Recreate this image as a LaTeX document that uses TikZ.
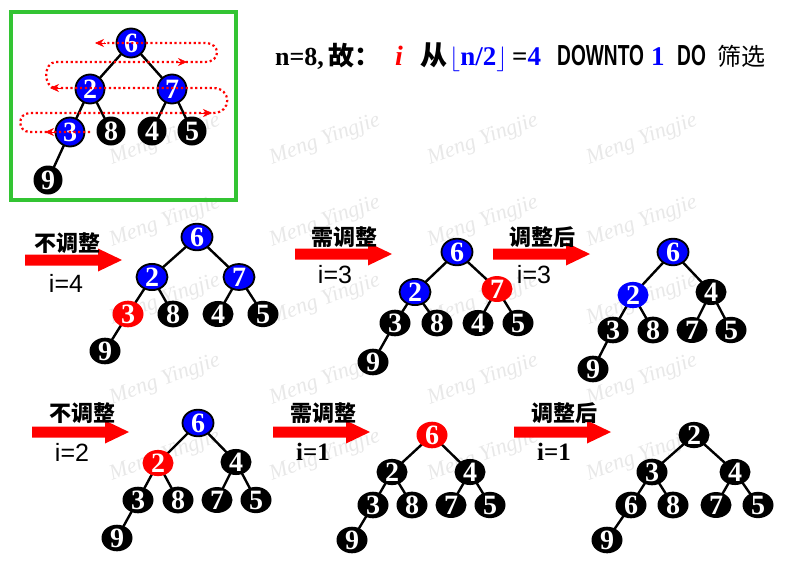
\documentclass[tikz,border=0pt]{standalone}
\usepackage{fontspec}
\usepackage{graphicx}
\setmainfont{Liberation Serif}
\newfontfamily\cjk{Noto Sans CJK SC}
\newfontfamily\lsans{Liberation Sans}
\usetikzlibrary{shapes.geometric,arrows.meta}
\pgfdeclarelayer{wm}
\pgfdeclarelayer{edges}
\pgfdeclarelayer{top}
\pgfsetlayers{wm,edges,main,top}
\definecolor{boxgreen}{RGB}{51,196,51}
\newcommand\dg{\fontsize{28}{28}\selectfont\bfseries}
\newcommand\bigarrow[2]{\fill[red] (#1,#2) ++(0,-5.5) -- ++(73,0) -- ++(0,-6) -- ++(24,11.5) -- ++(-24,11.5) -- ++(0,-6) -- ++(-73,0) -- cycle;}
\newcommand\treeedges[1]{\begin{pgfonlayer}{edges}\draw[edgeline] (#1r.center)--(#1l.center) (#1r.center)--(#1q.center) (#1l.center)--(#1ll.center) (#1l.center)--(#1lr.center) (#1q.center)--(#1ql.center) (#1q.center)--(#1qr.center) (#1ll.center)--(#1lll.center);\end{pgfonlayer}}
\begin{document}
\begin{tikzpicture}[x=1pt,y=-1pt,
  hn/.style={ellipse, minimum width=31pt, minimum height=25pt, inner sep=0pt, text=white, font=\dg},
  kn/.style={hn, fill=black},
  bn/.style={hn, fill=blue, draw=black, line width=1.8pt},
  bnf/.style={hn, fill=blue},
  rn/.style={hn, fill=red},
  ckn/.style={kn, minimum width=29pt, minimum height=29pt},
  cbn/.style={bn, minimum width=29pt, minimum height=29pt},
  edgeline/.style={line width=2.4pt, black},
  wmark/.style={text=black!9, font=\fontsize{22}{22}\selectfont\itshape, rotate=20, inner sep=0pt},
  lab/.style={font=\cjk\bfseries\fontsize{22}{22}\selectfont, inner sep=0pt},
  ilab/.style={font=\lsans\fontsize{25}{25}\selectfont, inner sep=0pt},
  jlab/.style={font=\bfseries\fontsize{25}{25}\selectfont, inner sep=0pt},
  hd/.style={anchor=base west, inner sep=0pt},
  redarr/.style={red, line width=0.5pt, -{Stealth[length=9pt,width=8pt]}},
  dots/.style={red, line width=2.2pt, dash pattern=on 2.2pt off 2.6pt}
]
\useasboundingbox (0,0) rectangle (799,573);
% watermarks
\begin{pgfonlayer}{wm}
\foreach \i/\x in {1/165,2/325,3/483,4/642}{
  \foreach \j/\y in {1/140,2/222,3/300,4/380,5/456}{
    \node[wmark] (wm\i\j) at (\x,\y) {Meng Yingjie};
  }
}
\end{pgfonlayer}
% green box
\draw[boxgreen, line width=3.5pt] (11,12) rectangle (236,200);
% top-left tree
\node[cbn] (Tr) at (131,43) {6};
\node[cbn] (Tl) at (90,89) {2};
\node[cbn] (Tq) at (172,89) {7};
\node[cbn] (Tll) at (70,132) {3};
\node[ckn] (Tlr) at (111,131) {8};
\node[ckn] (Tql) at (152,131) {4};
\node[ckn] (Tqr) at (192,131) {5};
\node[ckn] (Tlll) at (48,180) {9};
\treeedges{T}
\begin{pgfonlayer}{top}
\draw[dots] (90,132) -- (30,132) .. controls (17,132) and (17,113) .. (30,113) -- (213,113) .. controls (232,113) and (232,88) .. (213,88) -- (56,88) .. controls (43,88) and (43,62) .. (56,62) -- (205,62) .. controls (221,62) and (221,43) .. (205,43) -- (104,43);
\coordinate (a1s) at (106,43); \coordinate (a1e) at (95,43);
\coordinate (a2s) at (176,62); \coordinate (a2e) at (187,62);
\coordinate (a3s) at (61,88); \coordinate (a3e) at (50,88);
\coordinate (a4s) at (201,113); \coordinate (a4e) at (212,113);
\coordinate (a5s) at (56,132); \coordinate (a5e) at (45,132);
\draw[redarr] (a1s) -- (a1e);
\draw[redarr] (a2s) -- (a2e);
\draw[redarr] (a3s) -- (a3e);
\draw[redarr] (a4s) -- (a4e);
\draw[redarr] (a5s) -- (a5e);
\end{pgfonlayer}
% header
\node[hd] (h1) at (275,65) {\fontsize{26}{26}\selectfont\bfseries n=8,\,{\cjk 故：}};
\node[hd, text=red] (h2) at (395,65) {\fontsize{28}{28}\selectfont\bfseries\itshape i};
\node[hd] (h3) at (420,65) {\fontsize{27}{27}\selectfont\cjk\bfseries 从};
\node[hd, text=blue] (h4) at (449,65) {\fontsize{27}{27}\selectfont\bfseries$\lfloor$n/2$\rfloor$};
\node[hd] (h5) at (512,65) {\fontsize{27}{27}\selectfont\bfseries =\textcolor{blue}{4}};
\node[hd] (h6) at (557,65) {\scalebox{0.66}[1]{\lsans\bfseries\fontsize{29}{29}\selectfont DOWNTO}};
\node[hd, text=blue] (h7) at (651,65) {\fontsize{27}{27}\selectfont\bfseries 1};
\node[hd] (h8) at (677,65) {\scalebox{0.66}[1]{\lsans\bfseries\fontsize{29}{29}\selectfont DO}};
\node[hd] (h9) at (717,65) {\fontsize{24}{24}\selectfont\cjk 筛选};
% arrows
\bigarrow{25}{260}
\bigarrow{295}{254}
\bigarrow{493}{254}
\bigarrow{32}{432}
\bigarrow{273}{432}
\bigarrow{514}{432}
% labels
\node[lab] (l1a) at (67,243) {不调整};
\node[ilab] (l1b) at (66,283) {i=4};
\node[lab] (l2a) at (344,237) {需调整};
\node[ilab] (l2b) at (335,275) {i=3};
\node[lab] (l3a) at (542,237) {调整后};
\node[ilab] (l3b) at (534,275) {i=3};
\node[lab] (l4a) at (82,413) {不调整};
\node[ilab] (l4b) at (72,452) {i=2};
\node[lab] (l5a) at (323,413) {需调整};
\node[jlab] (l5b) at (313,452) {i=1};
\node[lab] (l6a) at (564,413) {调整后};
\node[jlab] (l6b) at (554,452) {i=1};
% tree A
\node[bn] (Ar) at (197,237) {6};
\node[bn] (Al) at (152,277) {2};
\node[bn] (Aq) at (239,277) {7};
\node[rn] (All) at (128,314) {3};
\node[kn] (Alr) at (173,314) {8};
\node[kn] (Aql) at (218,314) {4};
\node[kn] (Aqr) at (263,314) {5};
\node[kn] (Alll) at (105,351) {9};
\treeedges{A}
% tree B
\node[bn] (Br) at (457,252) {6};
\node[bn] (Bl) at (415,292) {2};
\node[rn] (Bq) at (497,289) {7};
\node[kn] (Bll) at (395,323) {3};
\node[kn] (Blr) at (437,323) {8};
\node[kn] (Bql) at (478,323) {4};
\node[kn] (Bqr) at (518,323) {5};
\node[kn] (Blll) at (373,362) {9};
\treeedges{B}
% tree C
\node[bn] (Cr) at (673,252) {6};
\node[bnf] (Cl) at (633,295) {2};
\node[kn] (Cq) at (711,292) {4};
\node[kn] (Cll) at (613,330) {3};
\node[kn] (Clr) at (653,330) {8};
\node[kn] (Cql) at (692,330) {7};
\node[kn] (Cqr) at (731,330) {5};
\node[kn] (Clll) at (593,369) {9};
\treeedges{C}
% tree D
\node[bn] (Dr) at (198,423) {6};
\node[rn] (Dl) at (158,463) {2};
\node[kn] (Dq) at (236,462) {4};
\node[kn] (Dll) at (138,500) {3};
\node[kn] (Dlr) at (178,500) {8};
\node[kn] (Dql) at (217,500) {7};
\node[kn] (Dqr) at (256,500) {5};
\node[kn] (Dlll) at (117,538) {9};
\treeedges{D}
% tree E
\node[rn] (Er) at (432,435) {6};
\node[kn] (El) at (392,472) {2};
\node[kn] (Eq) at (470,472) {4};
\node[kn] (Ell) at (373,505) {3};
\node[kn] (Elr) at (412,505) {8};
\node[kn] (Eql) at (451,505) {7};
\node[kn] (Eqr) at (490,505) {5};
\node[kn] (Elll) at (352,540) {9};
\treeedges{E}
% tree F
\node[kn] (Fr) at (694,435) {2};
\node[kn] (Fl) at (652,472) {3};
\node[kn] (Fq) at (735,472) {4};
\node[kn] (Fll) at (631,505) {6};
\node[kn] (Flr) at (673,505) {8};
\node[kn] (Fql) at (716,505) {7};
\node[kn] (Fqr) at (758,505) {5};
\node[kn] (Flll) at (607,540) {9};
\treeedges{F}
\end{tikzpicture}
\end{document}
